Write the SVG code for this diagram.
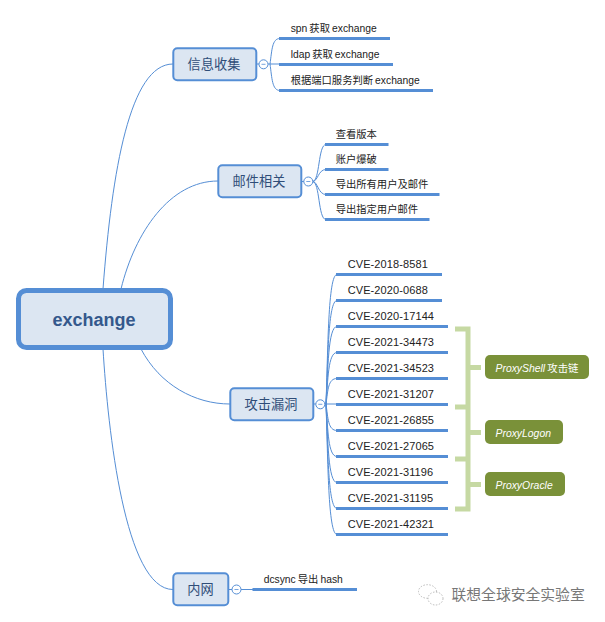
<svg xmlns="http://www.w3.org/2000/svg" width="605" height="622" viewBox="0 0 605 622">
<style>
text{font-family:"Liberation Sans","Noto Sans CJK SC",sans-serif}
.c{fill:none;stroke:#558ed5;stroke-width:1}
.l{fill:none;stroke:#558ed5;stroke-width:3}
.b{fill:none;stroke:#c6d9a3;stroke-width:5}
.n{fill:#dce6f2;stroke:#558ed5;stroke-width:2}
.nt{font-size:13.200px;fill:#2f4d78;text-anchor:middle;letter-spacing:.1px}
.t{font-size:10.300px;fill:#222;word-spacing:-.8px}
.cv{font-size:11px;fill:#222;letter-spacing:.1px}
.s{fill:#fff;stroke:#558ed5;stroke-width:1}
.m{stroke:#558ed5;stroke-width:.8}
.g{fill:#7a9139}
.gt{font-size:10.400px;fill:#fff;font-style:italic;word-spacing:-.8px}
</style>
<g id="connectors">
<path class="c" d="M103 289C112 170 130 64 173 64"/>
<path class="c" d="M121 289C135 232 170 181 218 181"/>
<path class="c" d="M141 349C160 385 195 404 230 404"/>
<path class="c" d="M103 349C108 430 125 589.500 173 589.500"/>
<path class="c" d="M257 64H259M268 64H279M270 64C272 50 272 38.500 280 38.500M270 64C272 78 272 90.500 280 90.500"/>
<path class="c" d="M302 181.500H304M312.500 181.500C320 181.500 318 144.500 326 144.500M312.500 181.500C318 181.500 318 169.500 326 169.500M312.500 181.500C318 181.500 318 194.500 326 194.500M312.500 181.500C320 181.500 318 219.500 326 219.500"/>
<path class="c" d="M314 404H316M325 404H337M326 404C328 350 328 274.500 337 274.500M326 404C328 360 328 300.500 337 300.500M326 404C328 370 328 326.500 337 326.500M326 404C328 380 328 352.500 337 352.500M326 404C328 390 328 378.500 337 378.500M326 404C328 418 328 430.500 337 430.500M326 404C328 430 328 456.500 337 456.500M326 404C328 440 328 482.500 337 482.500M326 404C328 450 328 508.500 337 508.500M326 404C328 460 328 534.500 337 534.500"/>
<path class="c" d="M229 589.500H232M241 589.500H253"/>
<path class="l" d="M279 38.500H390M279 64.500H393M279 90.500H433"/>
<path class="l" d="M325 144.500H388.500M325 169.500H388.500M325 194.500H439.500M325 219.500H429.500"/>
<path class="l" d="M336 274.500H442M336 300.500H442M336 326.500H448M336 352.500H448M336 378.500H448M336 404.500H448M336 430.500H448M336 456.500H448M336 482.500H448M336 508.500H448M336 534.500H448"/>
<path class="l" d="M252.500 589.500H357"/>
<path class="b" d="M455 329H468V407M455 407H468V459M455 459H468V509H455M468 367.500H481M468 432.500H481M468 484.500H481"/>
</g>
<g id="root"><rect x="18.500" y="290.500" width="152" height="57" rx="8" fill="#dce6f2" stroke="#558ed5" stroke-width="5"/><text x="94" y="326" font-size="18" font-weight="bold" fill="#34588c" text-anchor="middle">exchange</text></g>
<g id="n-info"><rect class="n" x="173.300" y="48.300" width="83" height="32" rx="4"/><text class="nt" x="214" y="69">信息收集</text><circle class="s" cx="263.500" cy="64.300" r="4.500"/><path class="m" d="M261.500 64.300h4"/></g>
<g id="n-mail"><rect class="n" x="218.300" y="165.300" width="83" height="32" rx="4"/><text class="nt" x="259" y="186">邮件相关</text><circle class="s" cx="308.300" cy="181.500" r="4.500"/><path class="m" d="M306.300 181.500h4"/></g>
<g id="n-vuln"><rect class="n" x="230.300" y="388.300" width="83" height="32" rx="4"/><text class="nt" x="271" y="409">攻击漏洞</text><circle class="s" cx="320.300" cy="404.300" r="4.500"/><path class="m" d="M318.300 404.300h4"/></g>
<g id="n-intra"><rect class="n" x="173.300" y="573.300" width="55" height="32" rx="4"/><text class="nt" x="200.500" y="594">内网</text><circle class="s" cx="236.500" cy="589.500" r="4.500"/><path class="m" d="M234.500 589.500h4"/></g>
<g id="leaves">
<text class="t" x="290.700" y="32">spn 获取 exchange</text>
<text class="t" x="290.700" y="58">ldap 获取 exchange</text>
<text class="t" x="290.700" y="84">根据端口服务判断 exchange</text>
<text class="t" x="335.700" y="138">查看版本</text>
<text class="t" x="335.700" y="163">账户爆破</text>
<text class="t" x="335.700" y="188">导出所有用户及邮件</text>
<text class="t" x="335.700" y="213">导出指定用户邮件</text>
<text class="cv" x="347.700" y="268">CVE-2018-8581</text>
<text class="cv" x="347.700" y="294">CVE-2020-0688</text>
<text class="cv" x="347.700" y="320">CVE-2020-17144</text>
<text class="cv" x="347.700" y="346">CVE-2021-34473</text>
<text class="cv" x="347.700" y="372">CVE-2021-34523</text>
<text class="cv" x="347.700" y="398">CVE-2021-31207</text>
<text class="cv" x="347.700" y="424">CVE-2021-26855</text>
<text class="cv" x="347.700" y="450">CVE-2021-27065</text>
<text class="cv" x="347.700" y="476">CVE-2021-31196</text>
<text class="cv" x="347.700" y="502">CVE-2021-31195</text>
<text class="cv" x="347.700" y="528">CVE-2021-42321</text>
<text class="t" x="263.700" y="583">dcsync 导出 hash</text>
</g>
<g id="summary-shell"><rect class="g" x="485" y="355" width="104" height="24" rx="5"/><text class="gt" x="495.500" y="372">ProxyShell <tspan font-style="normal">攻击链</tspan></text></g>
<g id="summary-logon"><rect class="g" x="485" y="420" width="78" height="24" rx="5"/><text class="gt" x="495.500" y="437">ProxyLogon</text></g>
<g id="summary-oracle"><rect class="g" x="485" y="472" width="80" height="24" rx="5"/><text class="gt" x="495.500" y="489">ProxyOracle</text></g>
<g id="watermark">
<ellipse cx="427.500" cy="591.500" rx="9" ry="6.800" fill="none" stroke="#aaa" stroke-width=".8" stroke-dasharray="1.500 1.500"/>
<ellipse cx="435.500" cy="598.500" rx="7.500" ry="6.500" fill="#fff" stroke="#aaa" stroke-width=".8" stroke-dasharray="1.500 1.500"/>
<text x="451.500" y="600" font-size="14.800" fill="#777">联想全球安全实验室</text>
</g>
</svg>
